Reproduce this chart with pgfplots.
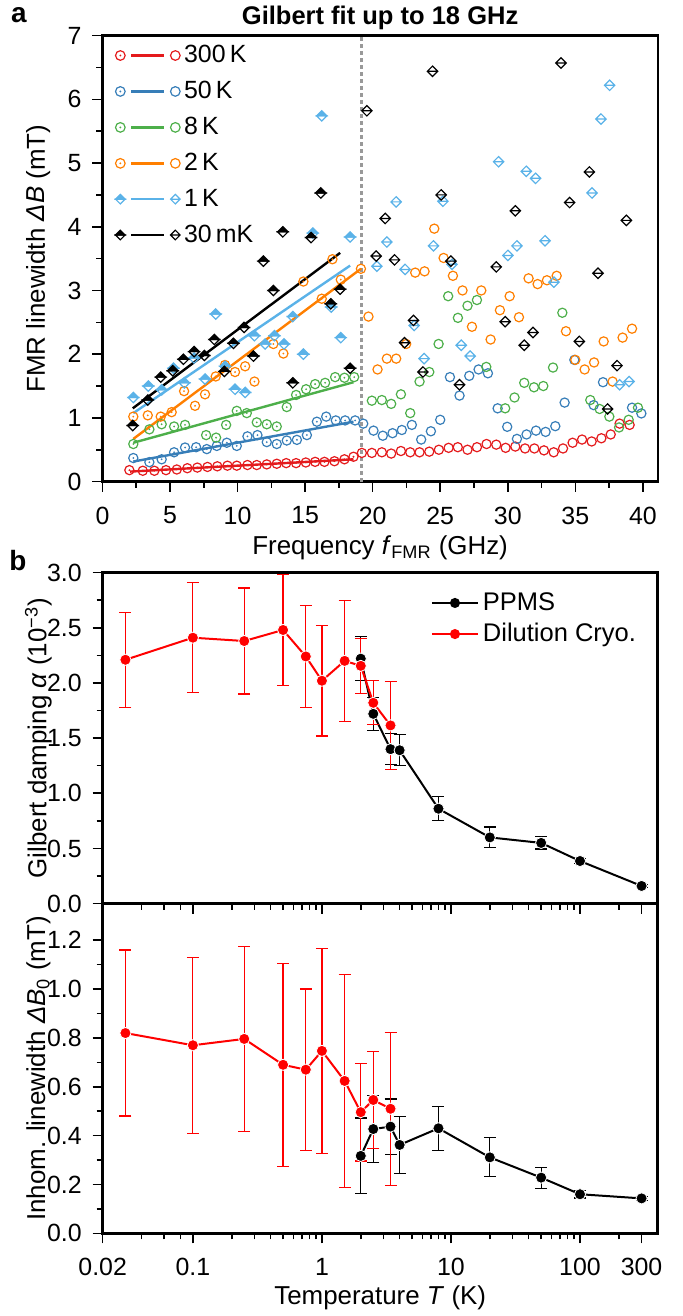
\documentclass[border=0pt]{standalone}
\usepackage{fontspec}
\setmainfont{Liberation Sans}
\usepackage{pgfplots}
\pgfplotsset{compat=1.18}
\definecolor{c300}{RGB}{228,26,28}
\definecolor{c50}{RGB}{55,126,184}
\definecolor{c8}{RGB}{77,175,74}
\definecolor{c2}{RGB}{255,127,0}
\definecolor{c1}{RGB}{90,178,232}
\definecolor{dred}{RGB}{255,0,0}
\pgfdeclareplotmark{odot}{%
  \pgfpathcircle{\pgfpointorigin}{\pgfplotmarksize}%
  \pgfusepathqstroke
  \pgfpathcircle{\pgfpointorigin}{0.22\pgfplotmarksize}%
  \pgfusepathqfill}
\pgfdeclareplotmark{hdiam}{%
  \pgfpathmoveto{\pgfqpoint{-\pgfplotmarksize}{0pt}}%
  \pgfpathlineto{\pgfqpoint{0pt}{\pgfplotmarksize}}%
  \pgfpathlineto{\pgfqpoint{\pgfplotmarksize}{0pt}}%
  \pgfpathclose
  \pgfusepathqfillstroke
  \pgfpathmoveto{\pgfqpoint{-\pgfplotmarksize}{0pt}}%
  \pgfpathlineto{\pgfqpoint{0pt}{-\pgfplotmarksize}}%
  \pgfpathlineto{\pgfqpoint{\pgfplotmarksize}{0pt}}%
  \pgfpathclose
  \pgfusepathqstroke}
\pgfdeclareplotmark{ldiam}{%
  \pgfpathmoveto{\pgfqpoint{-\pgfplotmarksize}{0pt}}%
  \pgfpathlineto{\pgfqpoint{0pt}{\pgfplotmarksize}}%
  \pgfpathlineto{\pgfqpoint{\pgfplotmarksize}{0pt}}%
  \pgfpathlineto{\pgfqpoint{0pt}{-\pgfplotmarksize}}%
  \pgfpathclose
  \pgfpathmoveto{\pgfqpoint{-\pgfplotmarksize}{0pt}}%
  \pgfpathlineto{\pgfqpoint{\pgfplotmarksize}{0pt}}%
  \pgfusepathqstroke}
\pgfplotsset{
  fitleg/.style 2 args={legend image code/.code={%
    \draw[line width=1.2bp] (5.5bp,0bp) -- (22bp,0bp);
    \draw[line width=0.6bp, mark size=2.4bp, mark=#1] plot coordinates {(0bp,0bp)};
    \draw[line width=0.6bp, mark size=2.4bp, mark=#2] plot coordinates {(27.5bp,0bp)};
  }},
  dotleg/.style={legend image code/.code={%
    \draw[line width=1bp] (0bp,0bp) -- (23bp,0bp);
    \fill (11.5bp,0bp) circle (2bp);
  }},
  myaxis/.style={
    scale only axis, anchor=north west,
    tick align=outside, xtick pos=left, ytick pos=left,
    major tick length=5bp, minor tick length=3bp,
    tick style={line width=0.8bp, black},
    axis line style={line width=1.2bp},
    tick label style={font=\fontsize{12.5}{14}\selectfont},
    label style={font=\fontsize{13}{15}\selectfont},
    /pgf/number format/assume math mode=true,
  },
  onedec/.style={yticklabel style={xshift=-2bp, /pgf/number format/fixed, /pgf/number format/fixed zerofill, /pgf/number format/precision=1}},
}
\begin{document}
\begin{tikzpicture}
\useasboundingbox (0,0) rectangle (341.5bp,-658bp);
\node[font=\fontsize{14}{16}\selectfont\bfseries, anchor=base] at (9.5bp,-11bp) {a};
\node[font=\fontsize{14}{16}\selectfont\bfseries, anchor=base] at (9bp,-285bp) {b};
% ---------------- panel a
\begin{axis}[myaxis,
  at={(51.25bp,-17.8bp)}, width=277.6bp, height=223bp,
  xmin=0, xmax=41.1, ymin=0, ymax=7,
  xtick={0,5,...,40}, ytick={0,1,...,7},
  minor x tick num=1, minor y tick num=1,
  xticklabel style={yshift=-4bp},
  yticklabel style={xshift=-2bp},
  xlabel={Frequency \textit{f}\textsubscript{FMR} (GHz)},
  ylabel={FMR linewidth \textit{ΔB} (mT)},
  xlabel style={at={(axis description cs:0.5,-0.1625)}, anchor=base},
  ylabel style={at={(axis description cs:-0.116,0.5)}, anchor=center},
  title={Gilbert fit up to 18 GHz},
  every axis title shift=0pt,
  title style={at={(axis description cs:0.5,1)}, anchor=base, yshift=5.3bp, font=\fontsize{12.8}{15}\selectfont\bfseries},
  legend style={at={(axis description cs:0.012,0.997)}, anchor=north west, draw=none, fill=none,
    font=\fontsize{12.5}{14}\selectfont, row sep=3.8bp},
  legend cell align=left,
]
\addlegendimage{c300, fitleg={odot}{o}}\addlegendentry{300\,K}
\addlegendimage{c50, fitleg={odot}{o}}\addlegendentry{50\,K}
\addlegendimage{c8, fitleg={odot}{o}}\addlegendentry{8\,K}
\addlegendimage{c2, fitleg={odot}{o}}\addlegendentry{2\,K}
\addlegendimage{c1, fitleg={hdiam}{ldiam}}\addlegendentry{1\,K}
\addlegendimage{black, fitleg={hdiam}{ldiam}}\addlegendentry{30\,mK}
\addplot[forget plot, black!40, line width=1.5bp, dash pattern=on 2bp off 1.5bp] coordinates {(19.2,0) (19.2,7)};
% 300 K
\addplot[forget plot, only marks, c300, mark=odot, mark size=2.3bp, mark options={line width=0.6bp}] coordinates {
(1.99,0.18)(2.98,0.17)(3.84,0.17)(4.70,0.18)(5.50,0.19)(6.28,0.21)(7.02,0.22)(7.77,0.23)(8.50,0.24)(9.25,0.25)(9.94,0.25)(10.73,0.26)(11.42,0.26)(12.16,0.27)(12.90,0.28)(13.60,0.29)(14.33,0.29)(15.05,0.30)(15.74,0.31)(16.43,0.31)(17.17,0.32)(17.91,0.35)(18.58,0.39)};
\addplot[forget plot, only marks, c300, mark=o, mark size=2.3bp, mark options={line width=0.6bp}] coordinates {
(19.20,0.45)(19.94,0.45)(20.68,0.46)(21.37,0.44)(22.09,0.48)(22.78,0.46)(23.47,0.46)(24.19,0.47)(24.90,0.50)(25.62,0.53)(26.30,0.54)(27.02,0.50)(27.72,0.54)(28.43,0.59)(29.15,0.58)(29.84,0.53)(30.56,0.55)(31.28,0.52)(31.97,0.52)(32.68,0.49)(33.40,0.46)(34.09,0.52)(34.80,0.61)(35.50,0.66)(36.21,0.63)(36.93,0.68)(37.62,0.74)(38.28,0.91)(39.02,0.89)};
% 50 K
\addplot[forget plot, only marks, c50, mark=odot, mark size=2.3bp, mark options={line width=0.6bp}] coordinates {
(2.28,0.37)(3.47,0.305)(4.38,0.35)(5.30,0.46)(6.11,0.535)(6.93,0.54)(7.72,0.51)(8.46,0.56)(9.20,0.61)(9.94,0.56)(10.73,0.71)(11.47,0.73)(12.16,0.62)(12.90,0.59)(13.64,0.645)(14.39,0.655)(15.13,0.73)(15.87,0.94)(16.56,1.02)(17.27,0.96)(17.96,0.96)(18.70,0.96)};
\addplot[forget plot, only marks, c50, mark=o, mark size=2.3bp, mark options={line width=0.6bp}] coordinates {
(19.30,0.91)(20.06,0.80)(20.75,0.72)(21.47,0.76)(22.16,0.81)(22.90,0.89)(23.59,0.66)(24.31,0.79)(25.00,0.97)(25.72,1.64)(26.43,1.35)(27.15,1.66)(27.84,1.76)(28.53,1.70)(29.25,1.15)(29.96,0.86)(30.68,0.67)(31.39,0.74)(32.09,0.80)(32.80,0.78)(33.52,0.87)(34.21,1.24)(34.93,1.91)(36.36,1.20)(37.05,1.56)(39.20,1.16)(39.89,1.07)};
% 8 K
\addplot[forget plot, only marks, c8, mark=odot, mark size=2.3bp, mark options={line width=0.6bp}] coordinates {
(2.28,0.59)(3.47,0.82)(4.38,0.90)(5.30,0.865)(6.11,0.89)(7.67,0.73)(8.41,0.69)(9.15,0.89)(9.94,1.11)(10.68,1.075)(11.42,0.93)(12.16,0.90)(12.90,0.865)(13.64,1.17)(14.33,1.36)(15.07,1.45)(15.74,1.53)(16.48,1.55)(17.22,1.64)(17.91,1.63)(18.63,1.64)};
\addplot[forget plot, only marks, c8, mark=o, mark size=2.3bp, mark options={line width=0.6bp}] coordinates {
(19.94,1.27)(20.68,1.28)(21.37,1.22)(22.09,1.37)(22.78,1.075)(23.47,1.57)(24.19,1.72)(24.88,2.16)(25.59,2.91)(26.31,2.57)(27.02,2.76)(27.72,2.85)(28.41,1.80)(29.81,1.15)(30.50,1.32)(31.22,1.55)(31.94,1.48)(32.63,1.50)(33.35,1.79)(34.04,2.65)(36.11,1.28)(36.80,1.14)(37.52,1.02)(38.24,0.85)(38.95,0.97)(39.64,1.16)};
% 2 K
\addplot[forget plot, only marks, c2, mark=odot, mark size=2.3bp, mark options={line width=0.6bp}] coordinates {
(2.28,1.02)(3.35,1.04)(4.31,1.02)(5.12,1.09)(6.04,1.42)(6.85,1.19)(7.59,1.37)(8.38,1.65)(9.07,1.83)(9.81,1.72)(10.56,1.81)(11.25,1.57)(12.65,2.16)(13.39,2.01)(14.87,3.14)(16.23,2.87)(17.02,3.49)(17.64,3.17)(19.13,3.34)};
\addplot[forget plot, only marks, c2, mark=o, mark size=2.3bp, mark options={line width=0.6bp}] coordinates {
(19.69,2.59)(20.36,1.76)(21.05,1.93)(21.74,1.93)(22.48,2.16)(23.15,3.28)(23.84,3.30)(24.56,3.97)(25.25,3.51)(25.94,3.23)(26.65,3.00)(27.35,2.43)(28.04,3.00)(28.73,2.23)(29.42,2.69)(30.14,2.91)(30.83,2.58)(31.54,3.19)(32.21,3.10)(32.90,3.16)(33.62,3.23)(34.31,2.36)(35.00,1.91)(35.69,1.76)(36.39,1.87)(37.10,2.20)(37.76,1.57)(38.50,2.26)(39.20,2.40)};
% 1 K
\addplot[forget plot, only marks, c1, mark=hdiam, mark size=2.6bp, mark options={line width=0.6bp}] coordinates {
(2.28,1.32)(3.39,1.50)(4.38,1.44)(5.25,1.78)(6.06,1.55)(6.78,1.94)(7.59,1.61)(8.38,2.63)(9.07,1.81)(9.81,1.45)(10.56,1.40)(11.25,2.29)(12.04,2.16)(12.73,2.29)(13.44,2.16)(14.09,2.59)(14.87,2.00)(15.57,3.90)(16.23,5.74)(16.93,2.74)(17.64,2.26)(18.33,3.84)};
\addplot[forget plot, only marks, c1, mark=ldiam, mark size=2.6bp, mark options={line width=0.6bp}] coordinates {
(20.31,3.38)(21.05,3.76)(21.74,4.39)(22.40,3.33)(23.07,2.45)(23.81,1.93)(24.50,3.70)(25.20,4.40)(25.87,3.41)(26.56,2.14)(27.22,1.97)(29.32,5.02)(30.01,3.55)(30.68,3.70)(31.37,4.87)(32.06,4.76)(32.76,3.78)(33.42,3.13)(36.24,4.53)(36.90,5.69)(37.54,6.22)(38.28,1.52)(38.98,1.57)};
% 30 mK
\addplot[forget plot, only marks, black, mark=hdiam, mark size=2.6bp, mark options={line width=0.6bp}] coordinates {
(2.24,0.88)(3.35,1.28)(4.31,1.64)(5.20,1.74)(5.99,1.92)(6.78,2.04)(7.54,1.98)(8.28,2.23)(9.02,1.73)(9.69,2.17)(10.48,2.42)(11.17,1.97)(11.91,3.46)(12.65,3.00)(13.35,3.92)(14.09,1.55)(15.44,3.83)(16.16,4.53)(16.90,2.79)(17.59,3.02)(18.33,1.78)};
\addplot[forget plot, only marks, black, mark=ldiam, mark size=2.6bp, mark options={line width=0.6bp}] coordinates {
(19.57,5.82)(20.26,3.54)(20.93,4.13)(21.62,3.48)(22.36,2.18)(23.02,2.53)(23.72,1.72)(24.43,6.44)(25.07,4.50)(25.79,3.46)(26.43,1.52)(29.15,3.37)(29.81,2.51)(30.56,4.25)(31.22,2.14)(31.87,2.34)(33.94,6.57)(34.58,4.38)(35.30,2.20)(36.04,4.86)(36.68,3.27)(37.39,1.14)(38.09,1.82)(38.78,4.10)};
% fit lines
\addplot[forget plot, c300, line width=1.2bp] coordinates {(2.04,0.157) (18.58,0.35)};
\addplot[forget plot, c50, line width=1.2bp] coordinates {(2.28,0.315) (18.58,0.94)};
\addplot[forget plot, c8, line width=1.2bp] coordinates {(2.28,0.61) (18.58,1.56)};
\addplot[forget plot, c2, line width=1.2bp] coordinates {(2.28,0.67) (19.13,3.34)};
\addplot[forget plot, c1, line width=1.2bp] coordinates {(2.28,1.075) (18.33,3.39)};
\addplot[forget plot, black, line width=1.2bp] coordinates {(2.24,1.15) (17.59,3.59)};
\end{axis}
% ---------------- panel b
\begin{axis}[myaxis, onedec,
  at={(51.35bp,-286.3bp)}, width=277.5bp, height=165.5bp,
  xmode=log, xmin=0.02, xmax=400, ymin=0, ymax=3,
  xtick={0.02,0.1,1,10,100}, xticklabels={},
  extra x ticks={300}, extra x tick labels={},
  minor xtick={0.04,0.06,0.08,0.2,0.3,0.4,0.5,0.6,0.7,0.8,0.9,2,3,4,5,6,7,8,9,20,30,40,50,60,70,80,90,200},
  ytick={0,0.5,...,3}, minor y tick num=1,
  ylabel={Gilbert damping \textit{α} (10\textsuperscript{−3})},
  ylabel style={at={(axis description cs:-0.116,0.5)}, anchor=center},
  legend style={at={(axis description cs:0.58,0.965)}, anchor=north west, draw=none, fill=none,
    font=\fontsize{12.8}{14}\selectfont, row sep=1bp},
  legend cell align=left,
]
\addplot[black, line width=1bp, dotleg, mark=*, mark size=2.8bp, mark options={draw=white, line width=0.4bp, fill=black},
  error bars/.cd, y dir=both, y explicit, error bar style={line width=0.6bp, black},
  error mark options={rotate=90, mark size=3bp, line width=0.6bp, black}]
coordinates {(2,2.22) +- (0,0.2) (2.5,1.72) +- (0,0.15) (3.4,1.40) +- (0,0.14) (4,1.39) +- (0,0.14)
 (8,0.86) +- (0,0.11) (20,0.60) +- (0,0.095) (50,0.55) +- (0,0.055) (100,0.386) +- (0,0.02) (300,0.16) +- (0,0.015)};
\addlegendentry{PPMS}
\addplot[dred, line width=1bp, dotleg, mark=*, mark size=2.8bp, mark options={draw=white, line width=0.4bp, fill=dred},
  error bars/.cd, y dir=both, y explicit, error bar style={line width=0.6bp, dred},
  error mark options={rotate=90, mark size=3bp, line width=0.6bp, dred}]
coordinates {(0.03,2.21) +- (0,0.43) (0.1,2.41) +- (0,0.5) (0.25,2.38) +- (0,0.48) (0.5,2.48) +- (0,0.5)
 (0.75,2.24) +- (0,0.46) (1,2.02) +- (0,0.5) (1.5,2.20) +- (0,0.55) (2,2.155) +- (0,0.25)
 (2.5,1.82) +- (0,0.2) (3.4,1.615) +- (0,0.4)};
\addlegendentry{Dilution Cryo.}
\end{axis}
% ---------------- panel c
\begin{axis}[myaxis, onedec,
  at={(51.35bp,-451.8bp)}, width=277.5bp, height=164.85bp,
  xmode=log, xmin=0.02, xmax=400, ymin=0, ymax=1.35,
  xtick={0.02,0.1,1,10,100}, xticklabels={0.02,0.1,1,10,100},
  extra x ticks={300}, extra x tick labels={300},
  minor xtick={0.04,0.06,0.08,0.2,0.3,0.4,0.5,0.6,0.7,0.8,0.9,2,3,4,5,6,7,8,9,20,30,40,50,60,70,80,90,200},
  xticklabel style={yshift=-4bp},
  ytick={0,0.2,...,1.2}, minor y tick num=1,
  xlabel={Temperature \textit{T} (K)},
  ylabel={Inhom. linewidth \textit{ΔB}\textsubscript{0} (mT)},
  xlabel style={at={(axis description cs:0.5,-0.2144)}, anchor=base},
  ylabel style={at={(axis description cs:-0.116,0.5)}, anchor=center},
]
\addplot[black, line width=1bp, mark=*, mark size=2.8bp, mark options={draw=white, line width=0.4bp, fill=black},
  error bars/.cd, y dir=both, y explicit, error bar style={line width=0.6bp, black},
  error mark options={rotate=90, mark size=3bp, line width=0.6bp, black}]
coordinates {(2,0.317) +- (0,0.155) (2.5,0.427) +- (0,0.137) (3.4,0.437) +- (0,0.113) (4,0.362) +- (0,0.116)
 (8,0.43) +- (0,0.09) (20,0.311) +- (0,0.08) (50,0.228) +- (0,0.043) (100,0.16) +- (0,0.015) (300,0.143) +- (0,0.008)};
\addplot[dred, line width=1bp, mark=*, mark size=2.8bp, mark options={draw=white, line width=0.4bp, fill=dred},
  error bars/.cd, y dir=both, y explicit, error bar style={line width=0.6bp, dred},
  error mark options={rotate=90, mark size=3bp, line width=0.6bp, dred}]
coordinates {(0.03,0.82) +- (0,0.34) (0.1,0.77) +- (0,0.36) (0.25,0.796) +- (0,0.38) (0.5,0.69) +- (0,0.415)
 (0.75,0.67) +- (0,0.33) (1,0.747) +- (0,0.42) (1.5,0.624) +- (0,0.436) (2,0.496) +- (0,0.2)
 (2.5,0.546) +- (0,0.2) (3.4,0.51) +- (0,0.313)};
\end{axis}
\end{tikzpicture}
\end{document}
